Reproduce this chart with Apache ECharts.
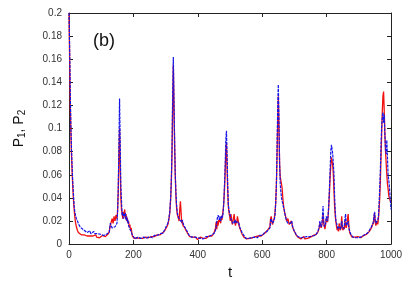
<!DOCTYPE html>
<html>
<head>
<meta charset="utf-8">
<script src="https://cdn.jsdelivr.net/npm/echarts@6/dist/echarts.min.js"></script>
<style>
html,body{margin:0;padding:0;background:#fff;}
#c{width:407px;height:285px;}
</style>
</head>
<body>
<div id="c"></div>
<script>
const tVals = [0,2,4,6,8,10,12,14,16,18,20,23,26,29,32,35,38,41,44,47,50,53,56,59,62,65,68,71,74,77,80,83,86,89,92,95,98,101,104,107,110,113,116,119,122,125,128,131,134,137,140,143,146,149,151,153,155,157,159,161,163,165,167,169,171,173,175,177,179,181,183,185,187,189,191,193,195,197,199,202,205,208,211,214,217,220,223,226,229,232,235,238,241,244,247,250,253,256,259,262,265,268,271,274,277,280,283,286,289,292,295,298,301,304,307,310,313,316,318,320,322,324,326,328,330,332,334,336,338,340,342,344,346,348,350,352,354,357,360,363,366,369,372,375,378,381,384,387,390,393,396,399,402,405,408,411,414,417,420,423,426,429,432,435,438,441,444,447,450,453,455,457,459,461,463,465,467,469,471,473,475,477,479,481,483,485,487,489,491,493,495,497,499,501,503,505,507,509,511,513,515,517,519,521,523,525,527,529,531,533,535,537,540,543,546,549,552,555,558,561,564,567,570,573,576,579,582,585,588,591,594,597,600,603,606,609,612,615,618,621,624,626,628,630,632,634,636,638,640,642,644,646,648,650,652,654,656,658,660,662,664,666,668,670,672,674,676,678,680,682,684,686,688,690,692,694,696,698,700,702,705,708,711,714,717,720,723,726,729,732,735,738,741,744,747,750,753,756,759,762,765,768,771,774,777,779,781,783,785,787,789,791,793,795,797,799,801,803,805,807,809,811,813,815,817,819,821,823,825,827,829,831,833,835,837,839,841,843,845,847,849,851,853,855,857,859,861,863,865,867,869,871,873,876,879,882,885,888,891,894,897,900,903,906,909,912,915,918,921,924,927,930,933,936,939,942,945,947,949,951,953,955,957,959,961,963,965,967,969,971,973,975,977,979,981,983,985,987,989,991,993,995,997,1000];

const p1 = [0.200,0.160,0.120,0.095,0.075,0.060,0.048,0.038,0.030,0.024,0.019,0.015,0.012,0.010,0.009,0.0085,0.008,0.009,0.007,0.008,0.0075,0.0085,0.007,0.0065,0.008,0.007,0.006,0.0085,0.007,0.0075,0.0065,0.008,0.006,0.0075,0.007,0.0055,0.0065,0.005,0.0075,0.006,0.007,0.0065,0.008,0.0075,0.009,0.011,0.016,0.019,0.022,0.018,0.024,0.020,0.025,0.022,0.030,0.045,0.075,0.100,0.070,0.040,0.030,0.026,0.022,0.028,0.024,0.030,0.022,0.026,0.020,0.023,0.018,0.020,0.015,0.017,0.012,0.014,0.010,0.007,0.006,0.005,0.006,0.004,0.0055,0.0045,0.006,0.005,0.0045,0.006,0.005,0.0055,0.0045,0.006,0.005,0.0065,0.0055,0.006,0.005,0.0065,0.006,0.007,0.0065,0.0075,0.007,0.008,0.0075,0.0085,0.008,0.009,0.0095,0.010,0.011,0.012,0.013,0.015,0.017,0.021,0.027,0.040,0.055,0.080,0.120,0.155,0.120,0.085,0.060,0.042,0.032,0.026,0.024,0.022,0.020,0.030,0.037,0.028,0.018,0.020,0.016,0.017,0.014,0.012,0.011,0.009,0.0075,0.0065,0.006,0.0055,0.006,0.005,0.0045,0.006,0.0055,0.004,0.0055,0.005,0.006,0.0045,0.0065,0.005,0.0055,0.006,0.005,0.0065,0.006,0.007,0.0065,0.0075,0.007,0.008,0.0095,0.011,0.014,0.019,0.013,0.020,0.016,0.021,0.019,0.022,0.018,0.024,0.021,0.026,0.030,0.037,0.048,0.062,0.080,0.088,0.065,0.045,0.032,0.027,0.024,0.020,0.026,0.021,0.017,0.019,0.023,0.026,0.019,0.016,0.020,0.018,0.024,0.021,0.017,0.015,0.016,0.012,0.011,0.009,0.008,0.006,0.0055,0.006,0.0045,0.0055,0.006,0.005,0.0065,0.0045,0.0055,0.006,0.005,0.0065,0.0055,0.006,0.007,0.0065,0.0075,0.007,0.008,0.0085,0.009,0.0095,0.010,0.0115,0.011,0.013,0.015,0.022,0.024,0.019,0.017,0.018,0.021,0.023,0.028,0.036,0.050,0.075,0.105,0.128,0.100,0.070,0.058,0.055,0.052,0.048,0.040,0.034,0.030,0.027,0.025,0.022,0.020,0.021,0.022,0.019,0.017,0.018,0.016,0.020,0.018,0.015,0.014,0.012,0.011,0.010,0.008,0.0075,0.006,0.0055,0.006,0.0045,0.0055,0.005,0.0065,0.0045,0.0055,0.006,0.005,0.0065,0.0055,0.006,0.007,0.0065,0.0075,0.007,0.008,0.0085,0.0095,0.011,0.014,0.018,0.016,0.014,0.016,0.020,0.026,0.018,0.015,0.013,0.017,0.022,0.021,0.019,0.025,0.034,0.045,0.058,0.068,0.075,0.072,0.068,0.060,0.045,0.032,0.024,0.019,0.015,0.012,0.014,0.011,0.018,0.014,0.012,0.015,0.024,0.014,0.012,0.015,0.013,0.020,0.016,0.014,0.017,0.022,0.026,0.016,0.011,0.009,0.0075,0.006,0.0055,0.005,0.006,0.0045,0.0055,0.0065,0.005,0.006,0.0055,0.007,0.0065,0.0075,0.007,0.008,0.0085,0.009,0.010,0.011,0.0125,0.014,0.016,0.018,0.022,0.027,0.019,0.016,0.018,0.020,0.017,0.022,0.030,0.040,0.055,0.075,0.095,0.115,0.128,0.132,0.115,0.095,0.080,0.070,0.060,0.052,0.048,0.042,0.040,0.038,0.036];

const p2 = [0.200,0.170,0.130,0.100,0.080,0.065,0.052,0.042,0.033,0.028,0.025,0.022,0.020,0.018,0.016,0.015,0.014,0.013,0.013,0.012,0.011,0.012,0.010,0.011,0.010,0.0115,0.009,0.010,0.0085,0.011,0.009,0.010,0.0085,0.009,0.010,0.008,0.0085,0.007,0.008,0.0075,0.009,0.008,0.0085,0.009,0.0095,0.010,0.018,0.016,0.014,0.015,0.013,0.015,0.014,0.018,0.028,0.050,0.085,0.126,0.090,0.050,0.038,0.025,0.028,0.022,0.026,0.024,0.027,0.021,0.024,0.019,0.021,0.016,0.017,0.013,0.014,0.011,0.009,0.008,0.007,0.006,0.0045,0.0055,0.005,0.006,0.0045,0.0055,0.005,0.006,0.0045,0.006,0.005,0.0065,0.005,0.006,0.0055,0.0065,0.006,0.007,0.0055,0.0065,0.0075,0.007,0.008,0.0075,0.0085,0.008,0.009,0.0085,0.010,0.0095,0.0105,0.013,0.012,0.014,0.018,0.022,0.028,0.042,0.058,0.085,0.130,0.162,0.125,0.090,0.060,0.045,0.034,0.028,0.025,0.023,0.022,0.021,0.020,0.022,0.019,0.021,0.018,0.016,0.0155,0.013,0.0115,0.010,0.008,0.007,0.0065,0.006,0.005,0.0055,0.006,0.0045,0.005,0.0055,0.0065,0.0045,0.005,0.006,0.0055,0.0045,0.006,0.0055,0.0065,0.006,0.0065,0.0065,0.0075,0.007,0.008,0.0085,0.0085,0.010,0.012,0.015,0.020,0.023,0.025,0.023,0.021,0.024,0.020,0.022,0.025,0.023,0.028,0.038,0.052,0.068,0.090,0.098,0.075,0.050,0.034,0.029,0.027,0.024,0.022,0.020,0.021,0.018,0.017,0.020,0.018,0.021,0.019,0.020,0.018,0.020,0.019,0.018,0.014,0.013,0.012,0.010,0.009,0.0075,0.006,0.005,0.0055,0.0065,0.005,0.0045,0.006,0.0055,0.0065,0.005,0.006,0.0055,0.0065,0.0055,0.0065,0.0075,0.007,0.008,0.0075,0.009,0.0095,0.010,0.011,0.011,0.012,0.012,0.014,0.020,0.022,0.021,0.018,0.017,0.020,0.022,0.026,0.036,0.050,0.080,0.115,0.138,0.110,0.070,0.052,0.045,0.040,0.037,0.035,0.032,0.030,0.027,0.024,0.022,0.020,0.019,0.018,0.018,0.019,0.017,0.018,0.019,0.020,0.016,0.014,0.013,0.011,0.0095,0.0085,0.007,0.0065,0.006,0.005,0.0055,0.0065,0.005,0.006,0.0055,0.0045,0.0065,0.0055,0.006,0.0065,0.0055,0.0065,0.007,0.0065,0.008,0.0075,0.009,0.010,0.012,0.015,0.020,0.017,0.015,0.017,0.024,0.033,0.020,0.015,0.014,0.018,0.024,0.022,0.020,0.026,0.036,0.050,0.065,0.080,0.086,0.082,0.078,0.077,0.060,0.040,0.028,0.020,0.018,0.016,0.013,0.015,0.014,0.016,0.013,0.014,0.020,0.015,0.014,0.013,0.016,0.022,0.026,0.016,0.015,0.018,0.020,0.014,0.012,0.010,0.008,0.0065,0.006,0.0065,0.005,0.0055,0.0065,0.006,0.0055,0.007,0.006,0.0065,0.0075,0.007,0.008,0.0075,0.009,0.0095,0.011,0.012,0.013,0.015,0.017,0.019,0.024,0.028,0.020,0.018,0.017,0.019,0.021,0.024,0.035,0.048,0.065,0.085,0.102,0.110,0.114,0.105,0.112,0.095,0.082,0.078,0.090,0.075,0.060,0.055,0.050,0.042,0.030];

const xTicks = [0,200,400,600,800,1000];
const yTicks = [0,0.02,0.04,0.06,0.08,0.1,0.12,0.14,0.16,0.18,0.2];

const s1 = tVals.map((t,i)=>[t,p1[i]]);
const s2 = tVals.map((t,i)=>[t,p2[i]]);

const font = 'Liberation Sans, Arial, sans-serif';
const axisCol = '#222';
const labelCol = '#333';

const chart = echarts.init(document.getElementById('c'), null, {renderer:'canvas'});
chart.setOption({
  animation:false,
  backgroundColor:'#fff',
  grid:{left:69,right:16,top:13,bottom:32},
  title:{text:'(b)',left:88,top:27,textStyle:{fontFamily:font,fontSize:18,fontWeight:'normal',color:'#111'}},
  xAxis:[{
    type:'value',min:xTicks[0],max:xTicks[xTicks.length-1],interval:200,
    axisLine:{show:true,onZero:false,lineStyle:{color:axisCol,width:1}},
    axisTick:{show:true,inside:true,length:4,lineStyle:{color:axisCol}},
    axisLabel:{color:labelCol,fontFamily:font,fontSize:10,margin:6,
      formatter:v=>{const r=xTicks.find(x=>Math.abs(x-v)<1e-6);return r===undefined?'':String(r);}},
    splitLine:{show:false},
    name:'t',nameLocation:'middle',nameGap:20,
    nameTextStyle:{fontFamily:font,fontSize:15,color:'#111'}
  },{
    type:'value',position:'top',min:0,max:1000,interval:200,
    axisLine:{show:true,onZero:false,lineStyle:{color:axisCol,width:1}},
    axisTick:{show:true,inside:true,length:4,lineStyle:{color:axisCol}},
    axisLabel:{show:false},splitLine:{show:false}
  }],
  yAxis:[{
    type:'value',min:0,max:0.2,interval:0.02,
    axisLine:{show:true,onZero:false,lineStyle:{color:axisCol,width:1}},
    axisTick:{show:true,inside:true,length:4,lineStyle:{color:axisCol}},
    axisLabel:{color:labelCol,fontFamily:font,fontSize:10,margin:7,
      formatter:v=>{const r=yTicks.find(y=>Math.abs(y-v)<1e-9);return r===undefined?'':String(r);}},
    splitLine:{show:false},
    name:'P{s|1}, P{s|2}',nameLocation:'middle',nameGap:42,nameRotate:90,
    nameTextStyle:{fontFamily:font,fontSize:14,color:'#111',
      rich:{s:{fontFamily:font,fontSize:10,color:'#111',verticalAlign:'bottom',padding:[6,0,0,0]}}}
  },{
    type:'value',position:'right',min:0,max:0.2,interval:0.02,
    axisLine:{show:true,onZero:false,lineStyle:{color:axisCol,width:1}},
    axisTick:{show:true,inside:true,length:4,lineStyle:{color:axisCol}},
    axisLabel:{show:false},splitLine:{show:false}
  }],
  series:[{
    name:'P1',type:'line',data:s1,showSymbol:false,symbol:'none',
    lineStyle:{color:'#f01010',width:1.3},z:2
  },{
    name:'P2',type:'line',data:s2,showSymbol:false,symbol:'none',
    lineStyle:{color:'#1515e8',width:1.2,type:[3,1]},z:3
  }]
});
</script>
</body>
</html>
